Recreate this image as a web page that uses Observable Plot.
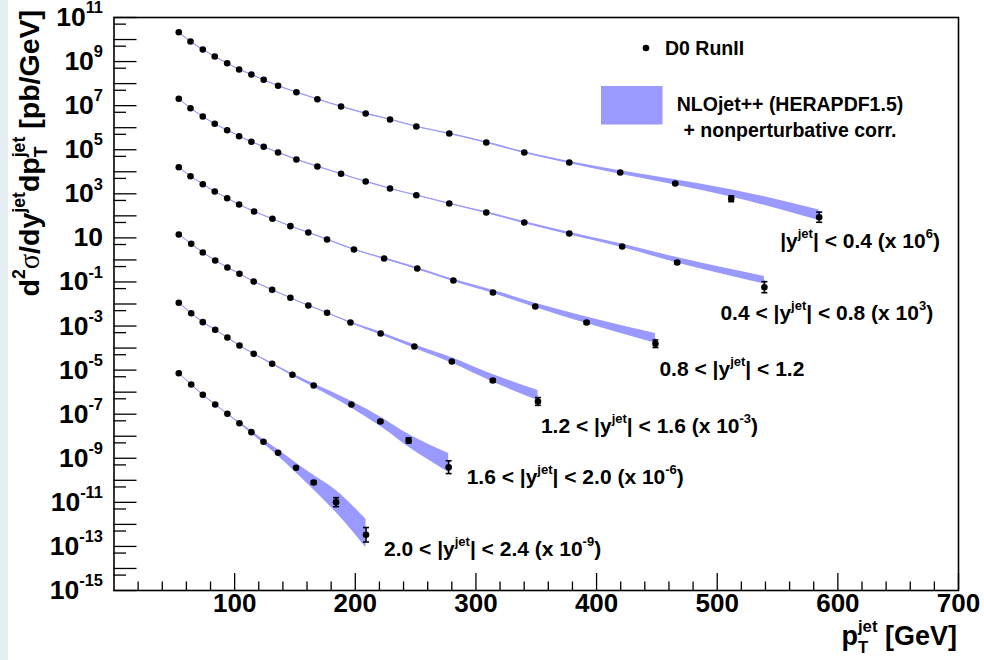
<!DOCTYPE html>
<html>
<head>
<meta charset="utf-8">
<script src="https://cdn.jsdelivr.net/npm/d3@7"></script>
<script src="https://cdn.jsdelivr.net/npm/@observablehq/plot@0.6"></script>
<style>
  body { margin: 0; background: #ffffff; }
  #strip { position: absolute; left: 0; top: 0; width: 8px; height: 660px; background: #e5eff3; z-index: 2; }
  #chart { position: absolute; left: 0; top: 0; }
</style>
</head>
<body>
<div id="strip"></div>
<div id="chart"></div>
<script>
// Inclusive jet cross sections d2sigma/dy dpT (pb/GeV) in six rapidity bins,
// each bin shifted by a power of ten for display.
const rapidityLabels = [
  "|y^{jet}| < 0.4 (x 10^{6})",
  "0.4 < |y^{jet}| < 0.8 (x 10^{3})",
  "0.8 < |y^{jet}| < 1.2",
  "1.2 < |y^{jet}| < 1.6 (x 10^{-3})",
  "1.6 < |y^{jet}| < 2.0 (x 10^{-6})",
  "2.0 < |y^{jet}| < 2.4 (x 10^{-9})"
];
const scaleExponents = [6, 3, 0, -3, -6, -9];

// |y| < 0.4
const pt1 = [53.7, 63.4, 73.6, 83.5, 93.8, 103.7, 113.9, 124.1, 136.0, 151.2, 168.6, 188.2, 208.6, 228.8, 250.6, 277.9, 308.6, 340.1, 377.4, 419.6, 465.2, 511.6, 584.5];
const xs1 = [2.15e4, 8.15e3, 3.53e3, 1.70e3, 845, 438, 259, 149, 79.6, 40.7, 19.6, 9.16, 4.41, 2.36, 1.13, 0.546, 0.213, 0.0750, 0.0264, 9.27e-3, 2.94e-3, 5.94e-4, 8.69e-5];
const err1 = [0, 0, 0, 0, 0, 0, 0, 0, 0, 0, 0, 0, 0, 0, 0, 0, 0, 0, 0, 0, 0.1, 0.35, 0.7];
const nloLo1 = [0.96, 0.96, 0.96, 0.96, 0.96, 0.96, 0.96, 0.96, 0.96, 0.96, 0.96, 0.96, 0.96, 0.96, 0.96, 0.95, 0.94, 0.92, 0.89, 0.83, 0.85, 1.2, 0.71];
const nloHi1 = [1.04, 1.04, 1.04, 1.04, 1.04, 1.04, 1.04, 1.04, 1.04, 1.04, 1.04, 1.04, 1.04, 1.04, 1.04, 1.05, 1.07, 1.09, 1.12, 1.2, 1.48, 2.6, 2.14];

// 0.4 < |y| < 0.8
const pt2 = [53.7, 63.4, 73.6, 83.5, 93.8, 103.7, 113.9, 124.1, 136.0, 151.2, 168.6, 188.2, 208.6, 228.8, 250.6, 277.9, 308.6, 340.1, 377.4, 421.2, 466.8, 539.1];
const xs2 = [2.05e4, 7.67e3, 3.22e3, 1.50e3, 771, 411, 229, 136, 75.0, 36.1, 17.4, 8.09, 3.62, 1.74, 0.865, 0.364, 0.142, 0.0500, 0.0158, 4.07e-3, 7.66e-4, 5.79e-5];
const err2 = [0, 0, 0, 0, 0, 0, 0, 0, 0, 0, 0, 0, 0, 0, 0, 0, 0, 0, 0, 0, 0.15, 0.78];
const nloLo2 = [0.96, 0.96, 0.96, 0.96, 0.96, 0.96, 0.96, 0.96, 0.96, 0.96, 0.96, 0.96, 0.96, 0.96, 0.96, 0.95, 0.93, 0.91, 0.87, 0.89, 0.95, 1.41];
const nloHi2 = [1.04, 1.04, 1.04, 1.04, 1.04, 1.04, 1.04, 1.04, 1.04, 1.04, 1.04, 1.04, 1.04, 1.04, 1.04, 1.05, 1.07, 1.1, 1.15, 1.29, 1.66, 3.09];

// 0.8 < |y| < 1.2
const pt3 = [53.7, 63.4, 73.6, 83.5, 93.8, 103.7, 116.1, 131.3, 146.2, 161.1, 176.6, 198.9, 223.9, 251.4, 281.3, 314.1, 349.2, 391.7, 448.8];
const xs3 = [1.61e4, 6.30e3, 2.73e3, 1.27e3, 632, 327, 158, 73.5, 34.0, 17.6, 8.45, 2.98, 1.16, 0.409, 0.117, 0.0333, 7.71e-3, 1.45e-3, 1.57e-4];
const err3 = [0, 0, 0, 0, 0, 0, 0, 0, 0, 0, 0, 0, 0, 0, 0, 0, 0, 0.15, 0.48];
const nloLo3 = [0.96, 0.96, 0.96, 0.96, 0.96, 0.96, 0.96, 0.96, 0.96, 0.96, 0.96, 0.95, 0.93, 0.91, 0.89, 0.91, 0.89, 0.89, 1.06];
const nloHi3 = [1.04, 1.04, 1.04, 1.04, 1.04, 1.04, 1.04, 1.04, 1.04, 1.04, 1.04, 1.05, 1.07, 1.1, 1.12, 1.26, 1.41, 1.78, 2.92];

// 1.2 < |y| < 1.6
const pt4 = [53.7, 64.0, 73.6, 83.9, 94.0, 104.0, 115.8, 131.1, 146.2, 161.1, 176.6, 196, 221, 249, 280, 314, 351.4];
const xs4 = [1.43e4, 5.40e3, 2.18e3, 944, 454, 235, 105, 44.2, 19.1, 8.57, 4.00, 1.45, 0.459, 0.118, 0.0247, 3.39e-3, 3.78e-4];
const err4 = [0, 0, 0, 0, 0, 0, 0, 0, 0, 0, 0, 0, 0, 0, 0, 0.15, 0.5];
const nloLo4 = [0.96, 0.96, 0.96, 0.96, 0.96, 0.96, 0.96, 0.96, 0.96, 0.96, 0.96, 0.93, 0.87, 0.83, 0.85, 0.85, 1.1];
const nloHi4 = [1.04, 1.04, 1.04, 1.04, 1.04, 1.04, 1.04, 1.04, 1.04, 1.04, 1.04, 1.07, 1.15, 1.2, 1.48, 1.86, 3.16];

// 1.6 < |y| < 2.0
const pt5 = [53.7, 64.0, 73.6, 83.9, 94.0, 104.0, 115.8, 131.1, 147.9, 165.5, 196.8, 220.8, 244.2, 277.4];
const xs5 = [1.14e4, 3.83e3, 1.50e3, 676, 303, 131, 55.1, 19.4, 6.14, 2.01, 0.276, 0.0468, 6.43e-3, 3.94e-4];
const err5 = [0, 0, 0, 0, 0, 0, 0, 0, 0, 0, 0, 0.12, 0.3, 0.95];
const nloLo5 = [0.96, 0.96, 0.96, 0.96, 0.96, 0.96, 0.96, 0.93, 0.89, 0.83, 0.7, 0.6, 0.5, 0.58];
const nloHi5 = [1.04, 1.04, 1.04, 1.04, 1.04, 1.04, 1.04, 1.07, 1.12, 1.2, 1.4, 1.6, 1.9, 4.17];

// 2.0 < |y| < 2.4
const pt6 = [53.7, 64.0, 73.6, 83.9, 94.0, 104.0, 113.9, 123.9, 136.0, 150.9, 165.5, 184.1, 208.9];
const xs6 = [7.26e3, 2.23e3, 760, 276, 104, 39.1, 15.3, 5.61, 1.78, 0.371, 0.0798, 0.0102, 3.38e-4];
const err6 = [0, 0, 0, 0, 0, 0, 0, 0, 0, 0, 0.2, 0.6, 1.13];
const nloLo6 = [0.96, 0.96, 0.96, 0.96, 0.96, 0.91, 0.87, 0.81, 0.72, 0.6, 0.47, 0.34, 0.26];
const nloHi6 = [1.04, 1.04, 1.04, 1.04, 1.04, 1.1, 1.15, 1.23, 1.38, 1.66, 2.14, 3.4, 5.0];

// Axis ticks
const xMajorTicks = [100, 200, 300, 400, 500, 600, 700];
const xMinorTicks = [20, 40, 60, 80, 120, 140, 160, 180, 220, 240, 260, 280, 320, 340, 360, 380, 420, 440, 460, 480, 520, 540, 560, 580, 620, 640, 660, 680];
const yLabelExponents = [11, 9, 7, 5, 3, 1, -1, -3, -5, -7, -9, -11, -13, -15];
const yMajorExponents = [11, 10, 9, 8, 7, 6, 5, 4, 3, 2, 1, 0, -1, -2, -3, -4, -5, -6, -7, -8, -9, -10, -11, -12, -13, -14, -15];
const yMinorExponents = [10, 9, 8, 7, 6, 5, 4, 3, 2, 1, 0, -1, -2, -3, -4, -5, -6, -7, -8, -9, -10, -11, -12, -13, -14, -15];

const seriesInput = [
  [pt1, xs1, err1, nloLo1, nloHi1],
  [pt2, xs2, err2, nloLo2, nloHi2],
  [pt3, xs3, err3, nloLo3, nloHi3],
  [pt4, xs4, err4, nloLo4, nloHi4],
  [pt5, xs5, err5, nloLo5, nloHi5],
  [pt6, xs6, err6, nloLo6, nloHi6]
];

// Label placement relative to the last point of each curve (pixels)
const labelOffsets = [[-39, 31], [-44, 33], [4, 32], [3, 32], [18, 17], [18, 21]];

const W = 984, H = 660;
const frameL = 113.5, frameR = 958, frameT = 17, frameB = 590;
const innerW = frameR - frameL, innerH = frameB - frameT;
const FONT = "'Liberation Sans', Arial, Helvetica, sans-serif";
const BAND = "#9999ff";

const series = seriesInput.map(([pt, xs, err, lo, hi], i) => {
  const f = Math.pow(10, scaleExponents[i]);
  return pt.map((p, j) => ({
    pt: p,
    v: xs[j] * f,
    lo: xs[j] * f * lo[j],
    hi: xs[j] * f * hi[j],
    mid: xs[j] * f * Math.sqrt(lo[j] * hi[j]),
    e: err[j],
    eLo: xs[j] * f / (1 + err[j]),
    eHi: xs[j] * f * (1 + err[j])
  }));
});

// horizontal error-bar cap
const capSymbol = {
  draw(context, size) {
    const w = Math.sqrt(size / Math.PI);
    context.moveTo(-w, 0);
    context.lineTo(w, 0);
  }
};

const marks = [];
for (const rows of series) {
  marks.push(Plot.areaY(rows, {x: "pt", y1: "lo", y2: "hi", fill: BAND, curve: "monotone-x"}));
  marks.push(Plot.line(rows, {x: "pt", y: "mid", stroke: BAND, strokeWidth: 1, curve: "monotone-x"}));
}
series.forEach((rows, i) => {
  const withErr = rows.filter(d => d.e > 0.08);
  marks.push(Plot.ruleX(withErr, {x: "pt", y1: "eLo", y2: "eHi", stroke: "black", strokeWidth: 1.6}));
  marks.push(Plot.dot(withErr, {x: "pt", y: "eHi", symbol: capSymbol, r: 3, stroke: "black", strokeWidth: 1.6, fill: "none"}));
  marks.push(Plot.dot(withErr, {x: "pt", y: "eLo", symbol: capSymbol, r: 3, stroke: "black", strokeWidth: 1.6, fill: "none"}));
  marks.push(Plot.dot(rows, {x: "pt", y: "v", r: 3.3, fill: "black", stroke: "none"}));
  const last = rows[rows.length - 1];
  marks.push(Plot.text([last], {
    x: "pt", y: "v", text: () => rapidityLabels[i],
    textAnchor: "start", lineAnchor: "middle",
    dx: labelOffsets[i][0], dy: labelOffsets[i][1] - 6.7,
    fontSize: 21, fontWeight: "bold", fill: "black"
  }));
});

// ticks pointing into the frame
marks.push(Plot.ruleY(yMajorExponents.map(e => Math.pow(10, e)), {y: d => d, insetRight: innerW - 23, stroke: "black", strokeWidth: 1.3}));
marks.push(Plot.ruleY(yMinorExponents.map(e => 5 * Math.pow(10, e)), {y: d => d, insetRight: innerW - 12.5, stroke: "black", strokeWidth: 1.3}));
marks.push(Plot.ruleX(xMajorTicks, {x: d => d, insetTop: innerH - 17, stroke: "black", strokeWidth: 1.3}));
marks.push(Plot.ruleX(xMinorTicks, {x: d => d, insetTop: innerH - 8.5, stroke: "black", strokeWidth: 1.3}));
marks.push(Plot.frame({stroke: "black", strokeWidth: 1.6}));

// tick labels
marks.push(Plot.text(yLabelExponents, {
  y: e => Math.pow(10, e), frameAnchor: "left",
  text: e => (e === 1 ? "10" : `10^{${e}}`),
  textAnchor: "end", lineAnchor: "middle", dx: -11,
  fontSize: 26.5, fontWeight: "bold", fill: "black"
}));
marks.push(Plot.text(xMajorTicks, {
  x: d => d, frameAnchor: "bottom", text: d => String(d),
  lineAnchor: "top", dy: 3, fontSize: 26, fontWeight: "bold", fill: "black"
}));

const chart = Plot.plot({
  width: W, height: H,
  marginLeft: frameL, marginRight: W - frameR, marginTop: frameT, marginBottom: H - frameB,
  x: {domain: [0, 700], axis: null},
  y: {type: "log", domain: [1e-15, 1e11], axis: null},
  style: {fontFamily: FONT, background: "transparent", overflow: "visible"},
  marks
});
document.getElementById("chart").appendChild(chart);

const svg = d3.select(chart);

// axis titles
svg.append("text")
  .attr("transform", "translate(38.5, 10) rotate(-90)")
  .attr("text-anchor", "end")
  .attr("font-family", FONT).attr("font-weight", "bold").attr("font-size", 28.5)
  .text("d^{2}σ/dy^{jet}dp_{T}^{jet} [pb/GeV]");
svg.append("text")
  .attr("x", 957).attr("y", 645)
  .attr("text-anchor", "end")
  .attr("font-family", FONT).attr("font-weight", "bold").attr("font-size", 27)
  .text("p_{T}^{jet} [GeV]");

// legend
const legend = svg.append("g").attr("font-family", FONT).attr("font-weight", "bold").attr("font-size", 19.5).attr("text-anchor", "start");
legend.append("circle").attr("cx", 646).attr("cy", 48).attr("r", 3.3).attr("fill", "black");
legend.append("text").attr("x", 665).attr("y", 55).text("D0 RunII");
legend.append("rect").attr("x", 601).attr("y", 86).attr("width", 61.5).attr("height", 38.5).attr("fill", BAND);
legend.append("text").attr("x", 790).attr("y", 111).attr("text-anchor", "middle").text("NLOjet++ (HERAPDF1.5)");
legend.append("text").attr("x", 790).attr("y", 136.5).attr("text-anchor", "middle").text("+ nonperturbative corr.");

// superscripts, subscripts and the Greek sigma inside text elements
const svgNS = "http://www.w3.org/2000/svg";
function richText(el) {
  const src = el.textContent;
  if (!/[\^_]\{|σ/.test(src)) return;
  const fs = parseFloat(getComputedStyle(el).fontSize);
  while (el.firstChild) el.removeChild(el.firstChild);
  const tokens = src.match(/_\{[^}]*\}\^\{[^}]*\}|\^\{[^}]*\}|_\{[^}]*\}|σ|[^_^σ]+/g);
  let cur = 0;
  const add = (txt, off, small, attrs = {}) => {
    const t = document.createElementNS(svgNS, "tspan");
    t.textContent = txt;
    const d = off - cur;
    if (d) t.setAttribute("dy", d);
    cur = off;
    if (small) t.setAttribute("font-size", fs * 0.62);
    for (const [k, v] of Object.entries(attrs)) t.setAttribute(k, v);
    el.appendChild(t);
    return t;
  };
  for (const tok of tokens) {
    let m;
    if ((m = tok.match(/^_\{([^}]*)\}\^\{([^}]*)\}$/))) {
      const sub = add(m[1], fs * 0.3, true);
      const w = sub.getComputedTextLength();
      const sup = add(m[2], -fs * 0.48, true);
      sup.setAttribute("dx", -w);
    } else if ((m = tok.match(/^\^\{([^}]*)\}$/))) {
      add(m[1], -fs * 0.48, true);
    } else if ((m = tok.match(/^_\{([^}]*)\}$/))) {
      add(m[1], fs * 0.3, true);
    } else if (tok === "σ") {
      add(tok, 0, false, {"font-family": "'Liberation Serif', 'DejaVu Serif', serif", "font-weight": "normal"});
    } else {
      add(tok, 0, false);
    }
  }
}
chart.querySelectorAll("text").forEach(richText);
</script>
</body>
</html>
